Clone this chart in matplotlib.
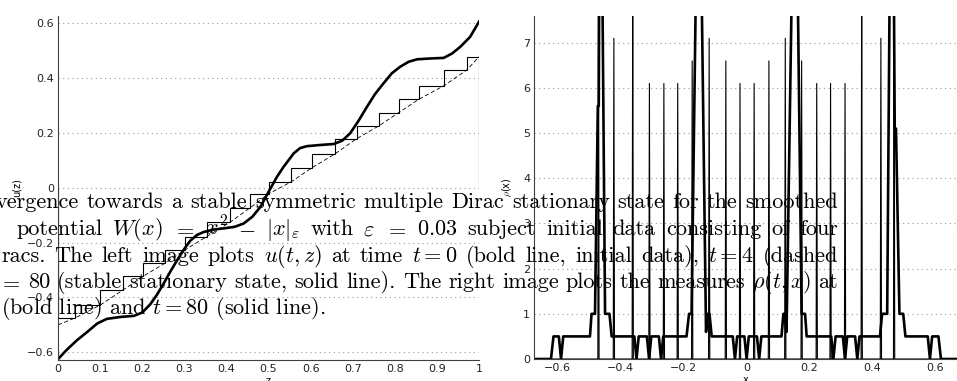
import matplotlib
matplotlib.use('Agg')
import matplotlib.pyplot as plt

plt.rcParams['mathtext.fontset'] = 'cm'
plt.rcParams['font.family'] = 'DejaVu Sans'

# ---- left panel: u(t, z) ----
z_init = [0.0, 0.02, 0.045, 0.07, 0.093, 0.116, 0.148, 0.18, 0.2, 0.219, 0.235, 0.251,
          0.267, 0.283, 0.299, 0.314, 0.33, 0.346, 0.37, 0.393, 0.42, 0.441, 0.462, 0.481,
          0.5, 0.52, 0.536, 0.56, 0.575, 0.591, 0.62, 0.655, 0.675, 0.694, 0.714, 0.734,
          0.753, 0.773, 0.793, 0.813, 0.833, 0.853, 0.885, 0.916, 0.936, 0.956, 0.979, 1.0]
u_init = [-0.625, -0.592, -0.556, -0.525, -0.495, -0.478, -0.471, -0.467, -0.455, -0.425,
          -0.39, -0.349, -0.305, -0.264, -0.225, -0.193, -0.172, -0.161, -0.152, -0.148,
          -0.142, -0.13, -0.105, -0.069, -0.015, 0.04, 0.077, 0.126, 0.145, 0.152, 0.156,
          0.16, 0.172, 0.199, 0.245, 0.296, 0.342, 0.381, 0.418, 0.442, 0.46, 0.469, 0.472,
          0.474, 0.49, 0.515, 0.551, 0.606]

stair_edges = [0.0, 0.04, 0.1, 0.155, 0.203, 0.255, 0.302, 0.353, 0.409, 0.457, 0.5,
               0.554, 0.603, 0.659, 0.71, 0.762, 0.809, 0.857, 0.916, 0.971, 1.0]
stair_levels = [-0.475, -0.428, -0.372, -0.322, -0.274, -0.226, -0.178, -0.125, -0.072, -0.022,
                0.022, 0.073, 0.125, 0.18, 0.226, 0.274, 0.323, 0.372, 0.43, 0.478]

dash_z = [0.0, 0.04, 0.1, 0.155, 0.203, 0.255, 0.302, 0.353, 0.409, 0.457, 0.5,
          0.554, 0.603, 0.659, 0.71, 0.762, 0.809, 0.857, 0.916, 0.971, 1.0]
dash_u = [-0.5, -0.475, -0.428, -0.372, -0.322, -0.274, -0.226, -0.178, -0.125, -0.072, -0.022,
          0.022, 0.073, 0.125, 0.18, 0.226, 0.274, 0.323, 0.372, 0.43, 0.478]

# ---- right panel: rho(t, x) ----
rho0_x = [-0.68, -0.621, -0.613, -0.596, -0.589, -0.582, -0.497, -0.492, -0.481, -0.472,
          -0.469, -0.466, -0.462, -0.449, -0.435, -0.428, -0.356, -0.349, -0.342, -0.316,
          -0.309, -0.302, -0.278, -0.271, -0.264, -0.19, -0.182, -0.174, -0.153, -0.149,
          -0.128, -0.122, -0.117, -0.11, -0.043, -0.036, -0.029, -0.006, 0.001, 0.008,
          0.034, 0.041, 0.048, 0.112, 0.118, 0.122, 0.128, 0.153, 0.157, 0.176, 0.187,
          0.192, 0.27, 0.277, 0.284, 0.307, 0.314, 0.321, 0.346, 0.353, 0.36, 0.425,
          0.432, 0.448, 0.46, 0.466, 0.472, 0.476, 0.487, 0.499, 0.506, 0.577, 0.584,
          0.591, 0.611, 0.619, 0.68]
rho0_y = [0, 0, 0.5, 0.5, 0, 0.5, 0.5, 1.0, 1.0, 5.6,
          5.6, 12, 12, 1.0, 1.0, 0.5, 0.5, 0, 0.5, 0.5,
          0, 0.5, 0.5, 0, 0.5, 0.5, 1.0, 1.0, 12, 12,
          0.6, 1.0, 1.0, 0.5, 0.5, 0, 0.5, 0.5, 0, 0.5,
          0.5, 0, 0.5, 0.5, 1.0, 1.0, 0.6, 12, 12, 1.0, 1.0,
          0.5, 0.5, 0, 0.5, 0.5, 0, 0.5, 0.5, 0, 0.5, 0.5,
          1.0, 1.0, 12, 12, 5.1, 5.1, 1.0, 1.0, 0.5, 0.5, 0,
          0.5, 0.5, 0, 0]

dirac_x = [-0.47, -0.421, -0.361, -0.308, -0.262, -0.218, -0.172, -0.118, -0.065, -0.02,
           0.025, 0.072, 0.124, 0.176, 0.224, 0.268, 0.314, 0.367, 0.428, 0.47]
dirac_h = [9, 7.1, 9, 6.1, 6.1, 6.1, 6.6, 7.1, 6.6, 6.1,
           6.1, 6.6, 7.1, 6.6, 6.1, 6.1, 6.1, 9, 7.1, 9]

# ---- caption (overlaid text) ----
caption = [
    (208.3, -4, ['vergence', 'towards', 'a', 'stable', 'symmetric', 'multiple', 'Dirac',
                 'stationary', 'state', 'for', 'the', 'smoothed']),
    (235.0, 16, ['potential', r'$W(x)$', r'$=$', r'$x^2$', r'$-$', r'$|x|_\varepsilon$', 'with',
                 r'$\varepsilon$', r'$=$', r'$0.03$', 'subject', 'initial', 'data', 'consisting',
                 'of', 'four']),
    (261.7, 1, ['racs.', 'The', 'left', 'image', 'plots', r'$u(t,z)$', 'at', 'time', r'$t=0$',
                '(bold', 'line,', 'initial', 'data),', r'$t=4$', '(dashed']),
    (288.0, -1, [r'$=$', '80', '(stable', 'stationary', 'state,', 'solid', 'line).', 'The',
                 'right', 'image', 'plots', 'the', 'measures', r'$\rho(t,x)$', 'at']),
]
last_line = (314.0, 1, r'(bold line) and $t=80$ (solid line).')
caption_right = 838

W, H = 957, 381
fig = plt.figure(figsize=(W / 100, H / 100), dpi=100)
ax1 = fig.add_axes([58 / W, 1 - 360 / H, 421 / W, 344.3 / H])
ax2 = fig.add_axes([534.3 / W, 1 - 359 / H, 422.7 / W, 343.3 / H])

for ax in (ax1, ax2):
    ax.spines['top'].set_visible(False)
    ax.spines['right'].set_visible(False)
    for s in ('left', 'bottom'):
        ax.spines[s].set_color('#404040')
        ax.spines[s].set_linewidth(0.8)
    ax.tick_params(length=0, labelsize=8, pad=3, colors='#222222')
    ax.yaxis.grid(True, linestyle=(0, (1, 3.2)), color='#9a9a9a', linewidth=0.8)
    ax.set_axisbelow(True)

ax1.stairs(stair_levels, stair_edges, color='black', linewidth=0.8)
ax1.plot(dash_z, dash_u, color='black', linewidth=0.6, linestyle=(0, (5, 3)))
ax1.plot(z_init, u_init, color='black', linewidth=1.9)
ax1.set_xlim(0, 1)
ax1.set_ylim(-0.628, 0.628)
ax1.set_xticks([0, 0.1, 0.2, 0.3, 0.4, 0.5, 0.6, 0.7, 0.8, 0.9, 1])
ax1.set_xticklabels(['0', '0.1', '0.2', '0.3', '0.4', '0.5', '0.6', '0.7', '0.8', '0.9', '1'])
ax1.set_yticks([-0.6, -0.4, -0.2, 0, 0.2, 0.4, 0.6])
ax1.set_yticklabels(['\u22120.6', '\u22120.4', '\u22120.2', '0', '0.2', '0.4', '0.6'])
ax1.set_xlabel('z', fontsize=7)
ax1.set_ylabel('u(z)', fontsize=7)
ax1.xaxis.set_label_coords(0.5, -0.046)
ax1.yaxis.set_label_coords(-0.087, 0.5)

spike_x, spike_y = [-0.68], [0]
for p, h in zip(dirac_x, dirac_h):
    spike_x += [p - 0.002, p, p + 0.002]
    spike_y += [0, h, 0]
spike_x.append(0.68)
spike_y.append(0)
ax2.plot(spike_x, spike_y, color='black', linewidth=0.8)
ax2.plot(rho0_x, rho0_y, color='black', linewidth=1.9)
ax2.set_xlim(-0.674, 0.67)
ax2.set_ylim(0, 7.6)
ax2.set_xticks([-0.6, -0.4, -0.2, 0, 0.2, 0.4, 0.6])
ax2.set_xticklabels(['\u22120.6', '\u22120.4', '\u22120.2', '0', '0.2', '0.4', '0.6'])
ax2.set_yticks(range(8))
ax2.set_xlabel('x', fontsize=7)
ax2.set_ylabel(r'$\rho$(x)', fontsize=7)
ax2.xaxis.set_label_coords(0.5, -0.046)
ax2.yaxis.set_label_coords(-0.048, 0.5)

# justified caption lines, drawn on top of both panels
renderer = fig.canvas.get_renderer()
for y, left, words in caption:
    texts = [fig.text(0, 1 - y / H, w, fontsize=16, family='cmr10', va='baseline', ha='left')
             for w in words]
    widths = [t.get_window_extent(renderer).width for t in texts]
    gap = (caption_right - left - sum(widths)) / (len(words) - 1)
    x = left
    for t, w in zip(texts, widths):
        t.set_x(x / W)
        x += w + gap
y, left, s = last_line
fig.text(left / W, 1 - y / H, s, fontsize=16, family='cmr10', va='baseline', ha='left')

fig.savefig('out.png', dpi=100)
